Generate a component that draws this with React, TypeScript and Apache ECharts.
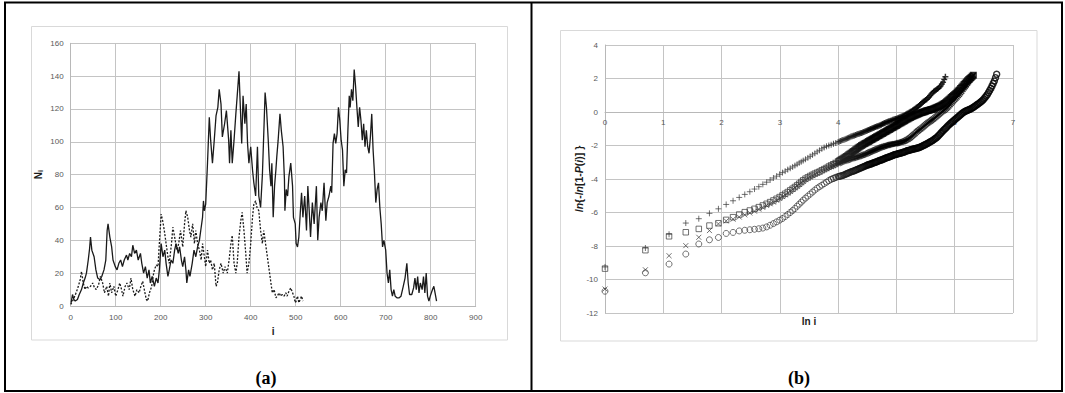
import React, { useEffect, useRef } from "react";
import * as echarts from "echarts";

// ---------- Panel (a): N_i versus i ----------
const SOLID_I = [1,4,7,10,15,19,24,28,32,35,39,42,44,47,52,56,60,65,69,74,78,81,83,87,91,94,99,103,107,111,115,119,124,127,131,135,138,142,146,150,155,158,162,166,170,174,177,181,186,190,194,197,201,205,209,212,216,219,223,227,231,234,239,242,246,249,253,256,258,262,265,270,274,278,282,286,289,293,295,297,300,304,308,311,315,319,323,327,330,334,337,342,346,351,353,356,359,363,367,370,374,377,380,383,387,390,393,396,400,404,407,411,415,418,422,426,430,432,435,439,442,445,447,450,453,456,458,461,465,468,472,475,476,479,482,485,489,493,495,499,501,504,507,510,513,516,520,524,527,530,533,537,541,546,549,552,556,559,563,567,570,574,578,580,583,586,589,592,595,598,601,604,607,610,613,616,619,621,624,627,630,633,636,639,642,645,648,651,654,657,660,663,666,669,672,675,678,681,684,687,690,693,696,700,703,706,709,712,715,718,721,725,730,734,739,743,747,750,753,758,762,765,768,771,774,777,781,784,787,790,793,796,799,804,807,811,813];
const SOLID_N = [2,7,4,3,4,7,10,14,17,20,28,35,42,34,30,22,17,16,18,22,28,46,50,42,36,28,24,22,26,28,24,28,31,28,32,30,37,32,34,28,32,26,20,24,17,22,14,18,12,17,14,22,38,30,34,26,18,22,28,26,34,38,32,36,28,24,30,22,14,22,18,26,34,30,36,40,46,54,64,58,62,87,115,101,87,101,116,121,132,123,103,111,119,101,87,107,87,101,117,128,143,121,99,128,111,123,99,87,97,83,75,67,97,67,60,80,113,130,121,101,83,73,87,54,73,83,91,101,117,107,97,77,58,71,67,79,87,73,54,50,38,36,42,56,69,54,67,46,73,58,42,63,50,73,40,54,63,58,75,52,63,67,73,69,99,105,99,105,121,113,101,95,73,83,81,107,128,121,132,125,144,134,121,109,121,113,101,111,97,107,97,93,103,117,95,81,63,71,75,60,50,36,40,34,20,14,22,10,6,10,6,5,5,6,12,17,26,14,7,7,11,17,10,18,8,14,10,18,8,20,6,3,6,10,12,6,3];

const DASHED_I = [0,6,12,17,21,24,28,32,35,39,44,49,53,57,62,66,71,75,80,84,87,91,96,100,105,109,113,116,121,125,130,134,138,143,147,152,156,160,165,168,171,175,180,183,186,190,194,197,201,205,208,212,216,219,224,227,231,236,240,244,249,253,256,260,264,267,271,275,278,282,286,290,293,297,300,304,308,311,315,319,323,326,330,334,339,343,348,352,356,359,363,367,370,374,378,381,385,389,392,396,400,404,407,411,414,418,422,426,429,433,437,440,444,448,452,456,459,463,467,470,474,478,481,485,489,493,496,499,501,504,507,510,513,516];
const DASHED_N = [1,4,8,12,16,21,14,10,12,11,12,14,11,10,13,18,14,8,12,6,14,8,12,6,10,14,10,6,12,14,10,17,10,6,10,8,12,15,8,4,3,8,12,18,22,25,24,38,56,51,46,38,30,26,38,48,42,34,38,46,36,50,58,54,46,42,50,38,46,38,34,28,38,30,24,34,26,28,22,26,12,14,22,26,20,24,20,28,38,43,26,20,26,42,52,57,46,32,20,26,38,54,62,64,60,58,46,38,46,38,30,24,16,8,10,5,6,8,6,7,6,8,6,9,11,8,6,2,3,6,2,4,6,3];

const A_X_TICKS = { min: 0, max: 900, interval: 100 };
const A_Y_TICKS = { min: 0, max: 160, interval: 20 };

// ---------- Panel (b): ln{-ln[1-P(i)]} versus ln i ----------
// ln i for i = 1..30
const LN_I_LOW = [
  0, 0.693, 1.099, 1.386, 1.609, 1.792, 1.946, 2.079, 2.197, 2.303,
  2.398, 2.485, 2.565, 2.639, 2.708, 2.773, 2.833, 2.890, 2.944, 2.996,
  3.045, 3.091, 3.135, 3.178, 3.219, 3.258, 3.296, 3.332, 3.367, 3.401,
];
// read positions along the dense part of the curves
const LN_I_MID = [3.44, 3.48, 3.52, 3.56, 3.60, 3.64, 3.68, 3.72, 3.76, 3.80, 3.84, 3.88, 3.92, 3.96, 4.00];
const LN_I_HIGH = [
  4.02, 4.04, 4.06, 4.08, 4.10, 4.12, 4.14, 4.16, 4.18, 4.20,
  4.22, 4.24, 4.26, 4.28, 4.30, 4.32, 4.34, 4.36, 4.38, 4.40,
  4.42, 4.44, 4.46, 4.48, 4.50, 4.52, 4.54, 4.56, 4.58, 4.60,
  4.62, 4.64, 4.66, 4.68, 4.70, 4.72, 4.74, 4.76, 4.78, 4.80,
  4.82, 4.84, 4.86, 4.88, 4.90, 4.92, 4.94, 4.96, 4.98, 5.00,
  5.02, 5.04, 5.06, 5.08, 5.10, 5.12, 5.14, 5.16, 5.18, 5.20,
  5.22, 5.24, 5.26, 5.28, 5.30, 5.32, 5.34, 5.36, 5.38, 5.40,
  5.42, 5.44, 5.46, 5.48, 5.50, 5.52, 5.54, 5.56, 5.58, 5.60,
  5.62, 5.64, 5.66, 5.68, 5.70, 5.72, 5.74, 5.76, 5.78, 5.80,
  5.82, 5.84, 5.86, 5.88, 5.90, 5.92, 5.94, 5.96, 5.98, 6.00,
  6.02, 6.04, 6.06, 6.08, 6.10, 6.12, 6.14, 6.16, 6.18, 6.20,
  6.22, 6.24, 6.26, 6.28, 6.30, 6.32, 6.34, 6.36, 6.38, 6.40,
  6.42, 6.44, 6.46, 6.48, 6.50, 6.52, 6.54, 6.56, 6.58, 6.60,
  6.62, 6.64, 6.66, 6.68, 6.70, 6.72,
];
const LN_I = [...LN_I_LOW, ...LN_I_MID, ...LN_I_HIGH];

const PLUS_Y = [
  -9.25, -8.12, -7.3, -6.63, -6.37, -6.05, -5.78, -5.52, -5.3, -5.1,
  -4.92, -4.76, -4.6, -4.46, -4.32, -4.19, -4.06, -3.94, -3.83, -3.72,
  -3.62, -3.53, -3.44, -3.36, -3.28, -3.2, -3.12, -3.04, -2.97, -2.9,
  -2.82, -2.74, -2.65, -2.56, -2.47, -2.38, -2.29, -2.2, -2.12, -2.05, -2.0, -1.95, -1.9, -1.85, -1.79,
  -1.76, -1.73, -1.7, -1.67, -1.65, -1.62, -1.59, -1.56, -1.53, -1.5,
  -1.47, -1.45, -1.42, -1.4, -1.37, -1.35, -1.32, -1.3, -1.27, -1.25,
  -1.22, -1.19, -1.16, -1.13, -1.1, -1.07, -1.04, -1.01, -0.98, -0.95,
  -0.92, -0.9, -0.87, -0.85, -0.82, -0.79, -0.76, -0.72, -0.69, -0.66,
  -0.63, -0.6, -0.57, -0.55, -0.52, -0.5, -0.47, -0.45, -0.42, -0.4,
  -0.37, -0.34, -0.31, -0.28, -0.25, -0.22, -0.19, -0.15, -0.11, -0.07,
  -0.03, 0.01, 0.05, 0.1, 0.15, 0.2, 0.25, 0.3, 0.36, 0.42,
  0.48, 0.55, 0.61, 0.66, 0.71, 0.76, 0.83, 0.9, 0.99, 1.08,
  1.15, 1.22, 1.27, 1.32, 1.37, 1.42, 1.49, 1.56, 1.67, 1.78,
  1.94, 2.1,
];

const SQUARE_Y = [
  -9.35, -8.25, -7.42, -7.18, -6.98, -6.78, -6.64, -6.44, -6.28, -6.12,
  -5.98, -5.88, -5.78, -5.68, -5.58, -5.48, -5.38, -5.28, -5.18, -5.08,
  -4.98, -4.88, -4.78, -4.68, -4.58, -4.48, -4.38, -4.28, -4.18, -4.08,
  -3.98, -3.9, -3.82, -3.75, -3.68, -3.62, -3.56, -3.48, -3.41, -3.34, -3.26, -3.2, -3.12, -3.04, -2.96,
  -2.92, -2.87, -2.83, -2.78, -2.74, -2.69, -2.65, -2.6, -2.55, -2.5,
  -2.45, -2.4, -2.35, -2.3, -2.25, -2.2, -2.15, -2.1, -2.05, -2.0,
  -1.96, -1.92, -1.88, -1.84, -1.8, -1.76, -1.72, -1.68, -1.64, -1.6,
  -1.56, -1.52, -1.48, -1.44, -1.4, -1.36, -1.32, -1.28, -1.24, -1.2,
  -1.16, -1.12, -1.08, -1.04, -1.0, -0.96, -0.92, -0.88, -0.84, -0.8,
  -0.76, -0.72, -0.68, -0.64, -0.6, -0.56, -0.52, -0.48, -0.44, -0.4,
  -0.36, -0.33, -0.29, -0.26, -0.23, -0.2, -0.17, -0.14, -0.11, -0.08,
  -0.05, -0.03, 0.0, 0.02, 0.05, 0.07, 0.09, 0.1, 0.13, 0.15,
  0.17, 0.2, 0.23, 0.26, 0.29, 0.32, 0.35, 0.38, 0.42, 0.46,
  0.51, 0.56, 0.62, 0.68, 0.74, 0.8, 0.86, 0.92, 0.98, 1.04,
  1.11, 1.18, 1.25, 1.32, 1.4, 1.48, 1.56, 1.64, 1.72, 1.8,
  1.87, 1.94, 2.0, 2.06, 2.13, 2.2,
];

const CROSS_Y = [
  -10.57, -9.42, -8.58, -7.98, -7.48, -7.08, -6.68, -6.5, -6.4, -6.27,
  -6.14, -6.03, -5.92, -5.8, -5.7, -5.58, -5.48, -5.38, -5.27, -5.16,
  -5.05, -4.95, -4.84, -4.73, -4.62, -4.52, -4.42, -4.32, -4.22, -4.13,
  -4.04, -3.96, -3.88, -3.8, -3.72, -3.64, -3.56, -3.5, -3.44, -3.38, -3.32, -3.26, -3.2, -3.14, -3.08,
  -3.05, -3.02, -2.99, -2.96, -2.94, -2.92, -2.9, -2.88, -2.85, -2.83,
  -2.8, -2.78, -2.76, -2.74, -2.72, -2.7, -2.68, -2.66, -2.63, -2.6,
  -2.58, -2.55, -2.52, -2.5, -2.47, -2.44, -2.41, -2.38, -2.35, -2.32,
  -2.29, -2.26, -2.23, -2.2, -2.17, -2.14, -2.11, -2.09, -2.06, -2.04,
  -2.02, -2.0, -1.98, -1.96, -1.94, -1.92, -1.91, -1.9, -1.89, -1.88,
  -1.86, -1.84, -1.82, -1.8, -1.78, -1.76, -1.73, -1.7, -1.66, -1.62,
  -1.57, -1.52, -1.46, -1.4, -1.34, -1.28, -1.21, -1.15, -1.1, -1.05,
  -1.0, -0.94, -0.88, -0.82, -0.76, -0.7, -0.65, -0.6, -0.55, -0.5,
  -0.45, -0.4, -0.34, -0.28, -0.22, -0.16, -0.1, -0.04, 0.01, 0.06,
  0.11, 0.16, 0.22, 0.28, 0.36, 0.44, 0.52, 0.6, 0.67, 0.74,
  0.82, 0.9, 0.98, 1.06, 1.15, 1.24, 1.34, 1.44, 1.53, 1.62,
  1.71, 1.8, 1.9, 2.0, 2.1, 2.2,
];

const CIRCLE_Y = [
  -10.7, -9.6, -9.08, -8.48, -7.88, -7.63, -7.49, -7.25, -7.19, -7.1,
  -7.06, -7.03, -7.0, -6.97, -6.93, -6.86, -6.76, -6.66, -6.56, -6.46,
  -6.36, -6.24, -6.12, -6.0, -5.88, -5.76, -5.62, -5.5, -5.38, -5.26,
  -5.14, -5.02, -4.9, -4.78, -4.66, -4.55, -4.46, -4.37, -4.28, -4.19, -4.1, -4.02, -3.96, -3.9, -3.85,
  -3.84, -3.82, -3.8, -3.78, -3.76, -3.73, -3.7, -3.66, -3.63, -3.6,
  -3.58, -3.55, -3.53, -3.5, -3.47, -3.44, -3.41, -3.38, -3.35, -3.32,
  -3.29, -3.26, -3.23, -3.2, -3.17, -3.15, -3.12, -3.1, -3.07, -3.05,
  -3.02, -3.0, -2.97, -2.94, -2.91, -2.88, -2.86, -2.84, -2.81, -2.78,
  -2.75, -2.72, -2.7, -2.67, -2.64, -2.62, -2.59, -2.56, -2.54, -2.52,
  -2.5, -2.48, -2.46, -2.45, -2.42, -2.4, -2.37, -2.35, -2.32, -2.3,
  -2.28, -2.26, -2.24, -2.22, -2.2, -2.19, -2.17, -2.15, -2.13, -2.1,
  -2.07, -2.04, -2.0, -1.97, -1.94, -1.9, -1.86, -1.82, -1.78, -1.74,
  -1.7, -1.65, -1.6, -1.55, -1.49, -1.42, -1.35, -1.27, -1.2, -1.12,
  -1.05, -0.98, -0.91, -0.84, -0.77, -0.7, -0.64, -0.58, -0.52, -0.46,
  -0.4, -0.34, -0.28, -0.22, -0.16, -0.1, -0.05, 0.0, 0.04, 0.08,
  0.11, 0.14, 0.17, 0.2, 0.24, 0.28, 0.33, 0.38, 0.43, 0.48,
  0.53, 0.58, 0.64, 0.7, 0.78, 0.86, 0.95, 1.05, 1.16, 1.28,
  1.41, 1.55, 1.7, 1.85, 2.05, 2.25,
];

const B_X_TICKS = { min: 0, max: 7, interval: 1 };
const B_Y_TICKS = { min: -12, max: 4, interval: 2 };

const TICK_FONT = "'Liberation Sans', Arial, sans-serif";
const GRID_COLOR = "#c4c4c4";

function pairs(xs: number[], ys: number[]) {
  return ys.map((y, k) => [xs[k], y]);
}

// outline weight grows where points pack together (large i), so the markers merge
// gradually into the solid black bands seen in the reference
function markers(xs: number[], ys: number[]) {
  return ys.map((y, k) => {
    const x = xs[k];
    const t = Math.max(0, Math.min(1, (x - 3.7) / 0.9));
    const g = Math.round(58 * (1 - t));
    return {
      value: [x, y],
      itemStyle: {
        color: "rgba(0,0,0,0)",
        borderColor: `rgb(${g},${g},${g})`,
        borderWidth: 0.9 + 0.55 * t,
      },
    };
  });
}

export default function App() {
  const ref = useRef<HTMLDivElement>(null);

  useEffect(() => {
    if (!ref.current) return;
    const chart = echarts.init(ref.current, null, { renderer: "svg" });

    const axisLabel = { fontSize: 8, color: "#595959", fontFamily: TICK_FONT };
    const splitLine = { show: true, lineStyle: { color: GRID_COLOR, width: 1 } };
    const axisLine = { show: true, lineStyle: { color: "#b8b8b8", width: 1 } };
    const nameStyle = { fontSize: 10, fontWeight: "bold", color: "#1a1a1a", fontFamily: TICK_FONT };

    // plot b: height 268 for 16 units; the x axis sits at y = 0, i.e. 12 units above the bottom
    const bHeight = 268;
    const bZeroOffset = -(bHeight * (0 - B_Y_TICKS.min)) / (B_Y_TICKS.max - B_Y_TICKS.min);

    chart.setOption({
      animation: false,
      backgroundColor: "#ffffff",
      grid: [
        { left: 70.7, top: 43.3, width: 405, height: 262.7 },
        { left: 605, top: 45, width: 408, height: bHeight },
      ],
      xAxis: [
        {
          gridIndex: 0, type: "value", ...A_X_TICKS,
          name: "i", nameLocation: "middle", nameGap: 20, nameMoveOverlap: false,
          nameTextStyle: nameStyle,
          axisLine, axisTick: { show: false },
          axisLabel: { ...axisLabel, margin: 7 }, splitLine,
        },
        {
          gridIndex: 1, type: "value", ...B_X_TICKS,
          position: "bottom", offset: bZeroOffset,
          axisLine: { ...axisLine, onZero: false }, axisTick: { show: false },
          axisLabel: { ...axisLabel, margin: 6 }, splitLine,
        },
      ],
      yAxis: [
        {
          gridIndex: 0, type: "value", ...A_Y_TICKS,
          name: "{b|N}{s|i}", nameLocation: "middle", nameGap: 27, nameMoveOverlap: false,
          nameTextStyle: {
            ...nameStyle,
            rich: {
              b: { fontSize: 10, fontWeight: "bold", fontFamily: TICK_FONT, color: "#1a1a1a" },
              s: { fontSize: 7, fontWeight: "bold", fontFamily: TICK_FONT, color: "#1a1a1a", padding: [4, 0, 0, 0] },
            },
          },
          axisLine, axisTick: { show: false },
          axisLabel: { ...axisLabel, margin: 7 }, splitLine,
        },
        {
          gridIndex: 1, type: "value", ...B_Y_TICKS,
          name: "{it|ln}{-{it|ln}[1-{it|P}({it|i})] }", nameLocation: "middle", nameGap: 21, nameMoveOverlap: false,
          nameTextStyle: {
            ...nameStyle,
            fontSize: 10.5,
            rich: {
              it: { fontSize: 10.5, fontWeight: "bold", fontStyle: "italic", fontFamily: TICK_FONT, color: "#1a1a1a" },
            },
          },
          axisLine: { ...axisLine, onZero: false }, axisTick: { show: false },
          axisLabel: { ...axisLabel, margin: 7 }, splitLine,
        },
      ],
      series: [
        {
          type: "line", xAxisIndex: 0, yAxisIndex: 0,
          data: pairs(DASHED_I, DASHED_N),
          symbol: "none", lineStyle: { color: "#1a1a1a", width: 1.3, type: [2, 1.6] },
        },
        {
          type: "line", xAxisIndex: 0, yAxisIndex: 0,
          data: pairs(SOLID_I, SOLID_N),
          symbol: "none", lineStyle: { color: "#1a1a1a", width: 1.3 },
        },
        {
          type: "scatter", xAxisIndex: 1, yAxisIndex: 1,
          data: markers(LN_I, CIRCLE_Y),
          symbol: "circle", symbolSize: 6,
        },
        {
          type: "scatter", xAxisIndex: 1, yAxisIndex: 1,
          data: markers(LN_I, CROSS_Y),
          symbol: "path://M0,0L10,10M10,0L0,10", symbolSize: 5,
        },
        {
          type: "scatter", xAxisIndex: 1, yAxisIndex: 1,
          data: markers(LN_I, SQUARE_Y),
          symbol: "rect", symbolSize: 5.5,
        },
        {
          type: "scatter", xAxisIndex: 1, yAxisIndex: 1,
          data: markers(LN_I, PLUS_Y),
          symbol: "path://M5,0L5,10M0,5L10,5", symbolSize: 6,
        },
      ],
      graphic: [
        { type: "rect", shape: { x: 5, y: 2.5, width: 1057, height: 388.5 }, style: { fill: "none", stroke: "#000", lineWidth: 2 }, silent: true },
        { type: "line", shape: { x1: 531.5, y1: 2.5, x2: 531.5, y2: 391 }, style: { stroke: "#000", lineWidth: 2 }, silent: true },
        { type: "rect", shape: { x: 31.5, y: 26.5, width: 476, height: 313.5 }, style: { fill: "none", stroke: "#d9d9d9", lineWidth: 1 }, silent: true },
        { type: "rect", shape: { x: 560.5, y: 30.5, width: 476.5, height: 310.5 }, style: { fill: "none", stroke: "#d9d9d9", lineWidth: 1 }, silent: true },
        { type: "text", x: 266, y: 378, style: { text: "(a)", fill: "#000", font: "bold 18px 'Liberation Serif', serif", textAlign: "center", textVerticalAlign: "middle" }, silent: true },
        { type: "text", x: 799, y: 378, style: { text: "(b)", fill: "#000", font: "bold 18px 'Liberation Serif', serif", textAlign: "center", textVerticalAlign: "middle" }, silent: true },
        { type: "text", x: 809, y: 321.5, style: { text: "ln i", fill: "#1a1a1a", font: `bold 10px ${TICK_FONT}`, textAlign: "center", textVerticalAlign: "middle" }, silent: true },
      ],
    });

    return () => chart.dispose();
  }, []);

  return (
    <div
      ref={ref}
      style={{ position: "fixed", left: 0, top: 0, width: 1065, height: 393, background: "#fff" }}
    />
  );
}
